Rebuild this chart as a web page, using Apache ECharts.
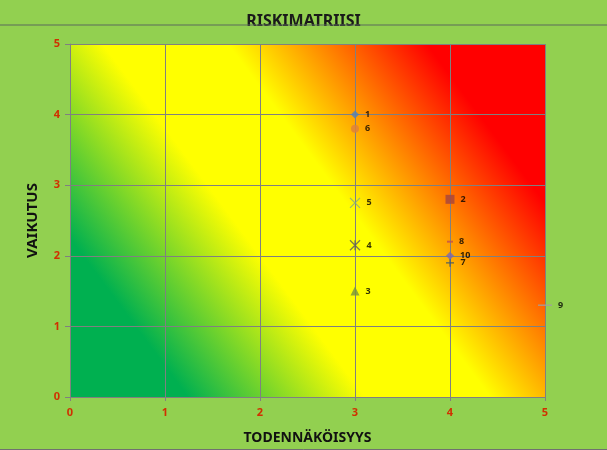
<!DOCTYPE html>
<html><head><meta charset="utf-8">
<script src="https://cdn.jsdelivr.net/npm/echarts@6/dist/echarts.min.js"></script>
<style>html,body{margin:0;padding:0;background:#92D050;}#c{width:607px;height:450px;}</style>
</head><body><div id="c"></div>
<script>
const pointNames = ['1','2','3','4','5','6','7','8','9','10'];
const probability = [3, 4, 3, 3, 3, 3, 4, 4, 5, 4];
const impact = [4, 2.8, 1.5, 2.15, 2.75, 3.8, 1.9, 2.2, 1.3, 2.0];
const axisTicks = [0, 1, 2, 3, 4, 5];

const markerStyles = {
  '1': {symbol: 'diamond', size: 8, color: '#4F81BD'},
  '2': {symbol: 'rect', size: 9, color: '#A5433F'},
  '3': {symbol: 'triangle', size: 9, color: '#77933C'},
  '4': {symbol: 'path://M0,0L10,10M10,0L0,10M5,0L5,10', size: 10, stroke: '#5A5A5A'},
  '5': {symbol: 'path://M0,0L10,10M10,0L0,10', size: 10, stroke: '#7FA88A'},
  '6': {symbol: 'circle', size: 8, color: '#E0803A'},
  '7': {symbol: 'path://M5,0L5,10M0,5L10,5', size: 8, stroke: '#2F4F6F'},
  '8': {symbol: 'rect', size: [6, 2], color: '#C0504D'},
  '9': {symbol: 'rect', size: [14, 1.5], color: '#A0A0A0'},
  '10': {symbol: 'diamond', size: 8, color: '#7B68B0'}
};

const data = pointNames.map((n, i) => {
  const s = markerStyles[n];
  const item = {name: n, value: [probability[i], impact[i]], symbol: s.symbol, symbolSize: s.size};
  if (s.stroke) item.itemStyle = {color: 'transparent', borderColor: s.stroke, borderWidth: 1.2};
  else item.itemStyle = {color: s.color};
  return item;
});

const chart = echarts.init(document.getElementById('c'));
const bg = new echarts.graphic.LinearGradient(0, 1, 1, 0, [
  {offset: 0, color: '#00B050'},
  {offset: 0.16, color: '#00B050'},
  {offset: 0.4, color: '#FFFF00'},
  {offset: 0.57, color: '#FFFF00'},
  {offset: 0.84, color: '#FF0000'},
  {offset: 1, color: '#FF0000'}
]);
const font = '"Noto Sans", "Open Sans", sans-serif';
chart.setOption({
  backgroundColor: '#92D050',
  animation: false,
  title: {text: 'RISKIMATRIISI', left: 'center', top: 8,
    textStyle: {fontFamily: font, fontWeight: 'bold', fontSize: 16, color: '#1A1A1A'}},
  graphic: [
    {type: 'line', shape: {x1: 0, y1: 25, x2: 607, y2: 25}, style: {stroke: '#5A6A5A', lineWidth: 1}, z: 100},
    {type: 'line', shape: {x1: 0, y1: 449.5, x2: 607, y2: 449.5}, style: {stroke: '#707070', lineWidth: 1}, z: 100}
  ],
  grid: {left: 70, right: 62, top: 44, bottom: 53, show: true, backgroundColor: bg, borderWidth: 0},
  xAxis: {
    type: 'value', min: axisTicks[0], max: axisTicks[axisTicks.length - 1], interval: 1,
    name: 'TODENNÄKÖISYYS', nameLocation: 'middle', nameGap: 34,
    nameTextStyle: {fontFamily: font, fontWeight: 'bold', fontSize: 14, color: '#111'},
    axisLine: {show: true, lineStyle: {color: '#808080'}},
    axisTick: {show: true, length: 4, lineStyle: {color: '#808080'}},
    axisLabel: {fontFamily: font, fontWeight: 'bold', fontSize: 11, color: '#D03000', margin: 10},
    splitLine: {show: true, lineStyle: {color: '#808080', width: 1}}
  },
  yAxis: {
    type: 'value', min: axisTicks[0], max: axisTicks[axisTicks.length - 1], interval: 1,
    name: 'VAIKUTUS', nameLocation: 'middle', nameGap: 30, nameRotate: 90,
    nameTextStyle: {fontFamily: font, fontWeight: 'bold', fontSize: 15, color: '#111'},
    axisLine: {show: true, lineStyle: {color: '#808080'}},
    axisTick: {show: true, length: 5, lineStyle: {color: '#808080'}},
    axisLabel: {fontFamily: font, fontWeight: 'bold', fontSize: 11, color: '#D03000', margin: 10},
    splitLine: {show: true, lineStyle: {color: '#808080', width: 1}}
  },
  series: [{
    type: 'scatter', data: data, clip: false,
    label: {show: true, position: 'right', distance: 6, formatter: '{b}',
      fontFamily: font, fontWeight: 'bold', fontSize: 9, color: '#000'}
  }]
});
</script></body></html>
